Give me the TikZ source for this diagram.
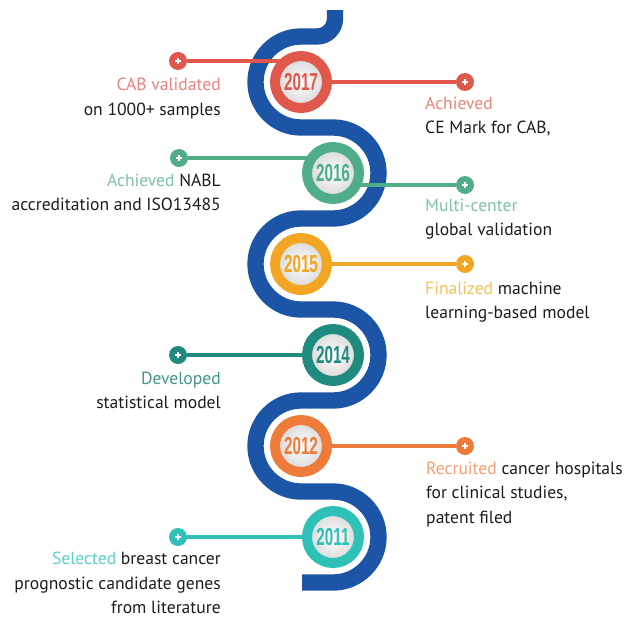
\documentclass[tikz,border=0pt]{standalone}
\usepackage{fontspec}
\setmainfont{PT Sans}
\newfontfamily\yearfont[FakeStretch=0.62]{Liberation Sans}
\usepackage{tikz}
\usetikzlibrary{backgrounds}

\definecolor{snakeblue}{HTML}{1C55A6}
\definecolor{ink}{HTML}{1E1B1C}
\definecolor{c17}{HTML}{E0584C}
\definecolor{c16}{HTML}{4FAE88}
\definecolor{c15}{HTML}{F2A623}
\definecolor{c14}{HTML}{1F8A7E}
\definecolor{c12}{HTML}{EE7B3A}
\definecolor{c11}{HTML}{2FC0B8}
\definecolor{w17}{HTML}{E8837A}
\definecolor{w16}{HTML}{7CC2A5}
\definecolor{w15}{HTML}{F4C05E}
\definecolor{w14}{HTML}{3E968C}
\definecolor{w12}{HTML}{F2A070}
\definecolor{w11}{HTML}{5DCFCA}

\tikzstyle{medal} = [circle, minimum size=1.56cm, line width=0.3cm, inner color=white, outer color=black!16, font=\yearfont\bfseries\fontsize{21}{21}\selectfont]
\tikzstyle{dot} = [circle, minimum size=0.54cm, inner sep=0pt, path picture={\draw[white, line width=1.6pt] ([xshift=-2.6pt]path picture bounding box.center) -- ([xshift=2.6pt]path picture bounding box.center) ([yshift=-2.6pt]path picture bounding box.center) -- ([yshift=2.6pt]path picture bounding box.center);}]
\tikzstyle{link} = [line width=0.12cm]
\tikzstyle{snake} = [draw=snakeblue, line width=0.49cm]
\tikzstyle{lefttext} = [anchor=north east, align=right, inner sep=0pt, text=ink, font=\fontsize{15}{20.7}\selectfont]
\tikzstyle{righttext} = [anchor=north west, align=left, inner sep=0pt, text=ink, font=\fontsize{15}{20.7}\selectfont]

\begin{document}
\begin{tikzpicture}[x=0.03cm, y=-0.03cm]
        \useasboundingbox (0,0) rectangle (626,617);
        % years
        \node[medal, draw=c17, text=c17] (y2017) at (301,82) {2017};
        \node[medal, draw=c16, text=c16] (y2016) at (333,173) {2016};
        \node[medal, draw=c15, text=c15] (y2015) at (301,264) {2015};
        \node[medal, draw=c14, text=c14] (y2014) at (333,355) {2014};
        \node[medal, draw=c12, text=c12] (y2012) at (301,446) {2012};
        \node[medal, draw=c11, text=c11] (y2011) at (333,537) {2011};

        % end dots
        \node[dot, fill=c17] (d17l) at (178,61) {};
        \node[dot, fill=c17] (d17r) at (465,82) {};
        \node[dot, fill=c16] (d16l) at (179,158) {};
        \node[dot, fill=c16] (d16r) at (465,185) {};
        \node[dot, fill=c15] (d15r) at (465,264) {};
        \node[dot, fill=c14] (d14l) at (178,355) {};
        \node[dot, fill=c12] (d12r) at (465,446) {};
        \node[dot, fill=c11] (d11l) at (178,537) {};

        % labels
        \node[lefttext] (t17l) at (221,78) {\textcolor{w17}{CAB validated}\\on 1000+ samples};
        \node[righttext] (t17r) at (425,97) {\textcolor{w17}{Achieved}\\CE Mark for CAB,};
        \node[lefttext] (t16l) at (221,174) {\textcolor{w16}{Achieved} NABL\\accreditation and ISO13485};
        \node[righttext] (t16r) at (425,199) {\textcolor{w16}{Multi-center}\\global validation};
        \node[righttext] (t15r) at (425,282) {\textcolor{w15}{Finalized} machine\\learning-based model};
        \node[lefttext] (t14l) at (221,372) {\textcolor{w14}{Developed}\\statistical model};
        \node[righttext] (t12r) at (426,462) {\textcolor{w12}{Recruited} cancer hospitals\\for clinical studies,\\patent filed};
        \node[lefttext] (t11l) at (221,552) {\textcolor{w11}{Selected} breast cancer\\prognostic candidate genes\\from literature};

        \begin{scope}[on background layer]
        \draw[snake] (335,10) -- (335,18.5) arc[start angle=0, end angle=90, radius=18]
            -- (301,36.5) arc[start angle=-90, end angle=-270, radius=45.5]
            -- (333,127.5) arc[start angle=-90, end angle=90, radius=45.5]
            -- (301,218.5) arc[start angle=-90, end angle=-270, radius=45.5]
            -- (333,309.5) arc[start angle=-90, end angle=90, radius=45.5]
            -- (301,400.5) arc[start angle=-90, end angle=-270, radius=45.5]
            -- (333,491.5) arc[start angle=-90, end angle=90, radius=45.5]
            -- (302,582.5);

        \draw[link, c17] (d17l) -- (d17l -| y2017);
        \draw[link, c17] (y2017) -- (d17r);
        \draw[link, c16] (d16l) -- (d16l -| y2016);
        \draw[link, c16] (y2016 |- d16r) -- (d16r);
        \draw[link, c15] (y2015) -- (d15r);
        \draw[link, c14] (d14l) -- (y2014);
        \draw[link, c12] (y2012) -- (d12r);
        \draw[link, c11] (d11l) -- (y2011);
        \end{scope}
\end{tikzpicture}
\end{document}
